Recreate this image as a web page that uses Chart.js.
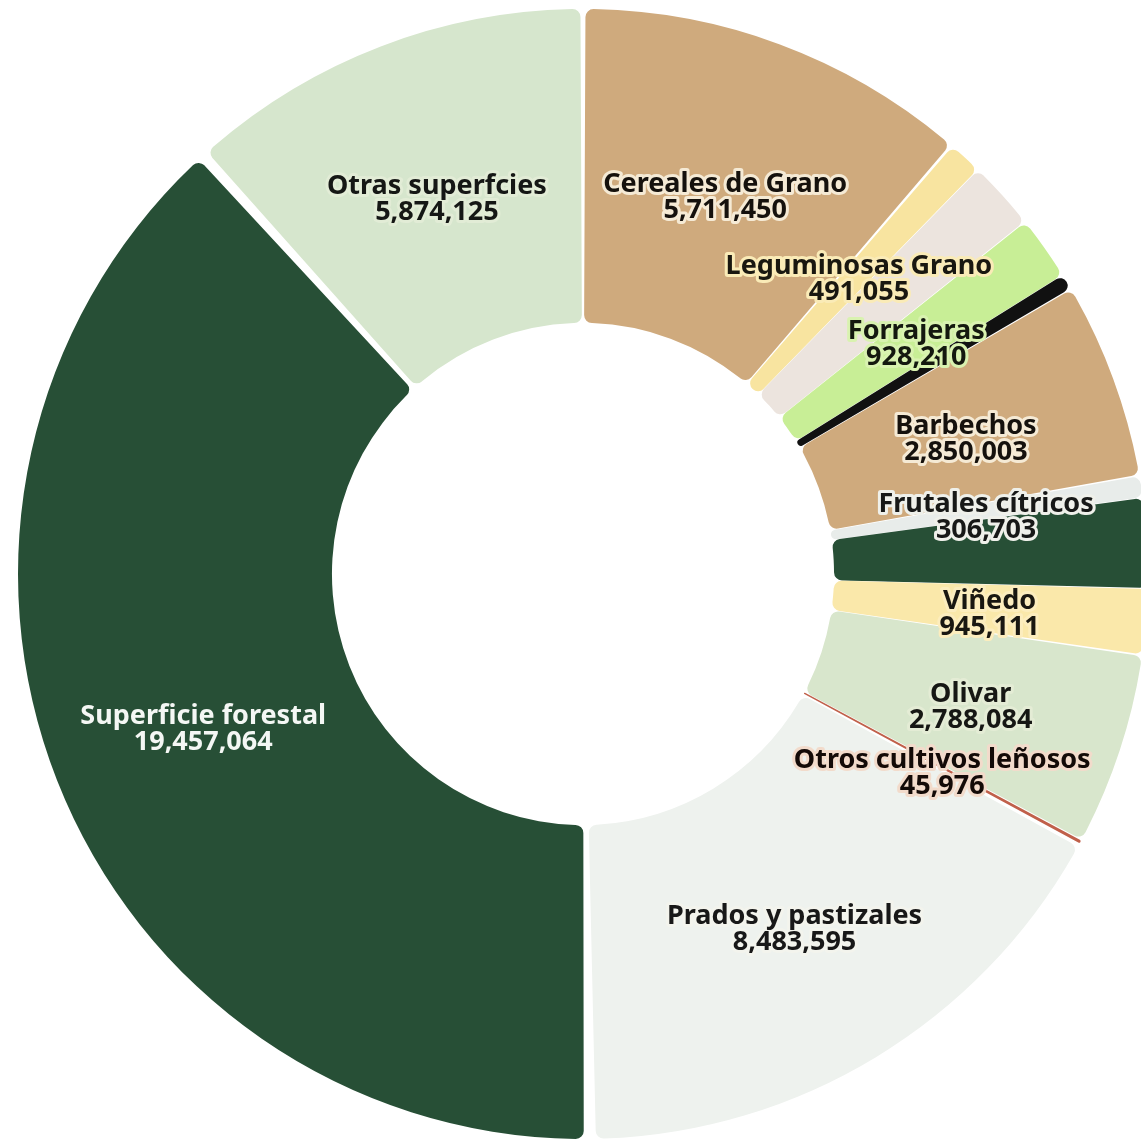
<!DOCTYPE html>
<html>
<head>
<meta charset="utf-8">
<script src="https://cdn.jsdelivr.net/npm/chart.js@4"></script>
<style>
  html, body { margin: 0; padding: 0; background: #fff; overflow: hidden; }
  #wrap { position: absolute; left: 0; top: 0; width: 1166px; height: 1148px; }
</style>
</head>
<body>
<div id="wrap"><canvas id="landUse"></canvas></div>
<script>
// Superficie por uso (ha)
const categories = [
    'Cereales de Grano', 'Leguminosas Grano', 'Cultivos industriales', 'Forrajeras',
    'Hortalizas', 'Barbechos', 'Frutales cítricos', 'Frutales no cítricos',
    'Viñedo', 'Olivar', 'Otros cultivos leñosos', 'Prados y pastizales',
    'Superficie forestal', 'Otras superfcies'
];
const hectares = [
    5711450, 491055, 1000000, 928210,
    220000, 2850003, 306703, 1300000,
    945111, 2788084, 45976, 8483595,
    19457064, 5874125
];
// slices whose label is not shown in the original
const unlabelled = ['Cultivos industriales', 'Hortalizas', 'Frutales no cítricos'];

const sliceColors = [
    '#cfaa7d', '#f8e4a0', '#ece4de', '#c8ee96',
    '#111111', '#cfaa7d', '#e8ecea', '#274f36',
    '#fae8aa', '#d8e6cc', '#c0604a', '#eef2ee',
    '#274f36', '#d6e6cd'
];

const hexToRgb = (hex) => {
    const n = parseInt(hex.slice(1), 16);
    return [(n >> 16) & 255, (n >> 8) & 255, n & 255];
};
const mix = (rgb, target, t) => rgb.map((c, i) => Math.round(c + (target[i] - c) * t));
const css = (rgb) => `rgb(${rgb[0]},${rgb[1]},${rgb[2]})`;

const sliceLabels = {
    id: 'sliceLabels',
    afterDatasetsDraw: (chart) => {
        const { ctx } = chart;
        const arcs = chart.getDatasetMeta(0).data;
        ctx.save();
        ctx.textAlign = 'center';
        ctx.textBaseline = 'middle';
        ctx.font = 'bold 27px "Noto Sans"';
        ctx.lineJoin = 'round';
        arcs.forEach((arc, i) => {
            if (unlabelled.includes(categories[i])) return;
            const { x, y } = arc.tooltipPosition();
            const rgb = hexToRgb(sliceColors[i]);
            const lum = (0.299 * rgb[0] + 0.587 * rgb[1] + 0.114 * rgb[2]) / 255;
            const dark = lum < 0.35;
            const text = dark ? '#f4f7f4' : css(mix(rgb, [0, 0, 0], 0.9));
            // light halo around dark text, tinted by the slice colour
            const halo = css(mix(rgb, [255, 250, 235], lum > 0.8 ? 0.3 : 0.8));
            const lines = [categories[i], hectares[i].toLocaleString('en-US')];
            const lineY = (k) => y + 6 + (k - 0.5) * 26;
            if (!dark) {
                ctx.strokeStyle = halo;
                ctx.lineWidth = 6;
                lines.forEach((line, k) => ctx.strokeText(line, x, lineY(k)));
            }
            ctx.fillStyle = text;
            lines.forEach((line, k) => ctx.fillText(line, x, lineY(k)));
        });
        ctx.restore();
    }
};

new Chart(document.getElementById('landUse'), {
    type: 'doughnut',
    data: {
        labels: categories,
        datasets: [{
            data: hectares,
            backgroundColor: sliceColors,
            borderWidth: 0,
            spacing: 10,
            borderRadius: 8
        }]
    },
    options: {
        responsive: true,
        maintainAspectRatio: false,
        animation: false,
        radius: 560,
        cutout: 250,
        layout: { padding: 0 },
        plugins: { legend: { display: false }, tooltip: { enabled: false } }
    },
    plugins: [sliceLabels]
});
</script>
</body>
</html>
